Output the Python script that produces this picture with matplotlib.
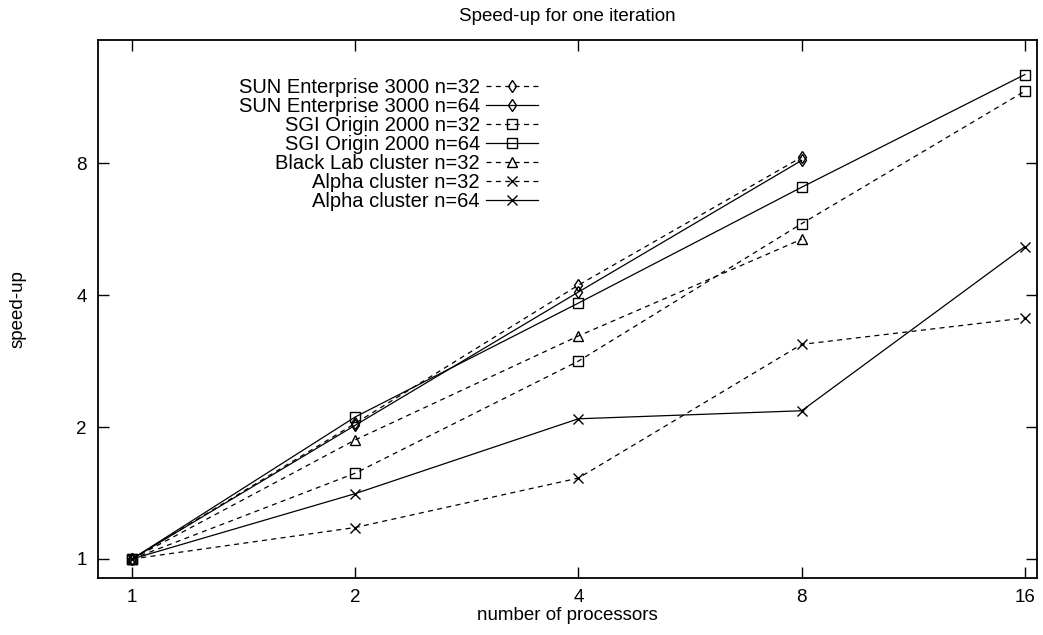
import numpy as np
import matplotlib.pyplot as plt

plt.rcParams['font.family'] = ['Liberation Sans', 'DejaVu Sans']

procs = [1, 2, 4, 8, 16]
procs8 = [1, 2, 4, 8]

sun32 = [1.0, 2.04, 4.22, 8.27]
sun64 = [1.0, 2.02, 4.07, 8.13]
sgi32 = [1.0, 1.57, 2.83, 5.83, 11.7]
sgi64 = [1.0, 2.11, 3.84, 7.06, 12.77]
black32 = [1.0, 1.87, 3.23, 5.37]
alpha32 = [1.0, 1.18, 1.53, 3.09, 3.55]
alpha64 = [1.0, 1.41, 2.09, 2.18, 5.17]

labels = ['SUN Enterprise 3000 n=32', 'SUN Enterprise 3000 n=64',
          'SGI Origin 2000 n=32', 'SGI Origin 2000 n=64',
          'Black Lab cluster n=32', 'Alpha cluster n=32', 'Alpha cluster n=64']

fig = plt.figure(figsize=(10.43, 6.35), dpi=100)
ax = fig.add_axes([0.094, 0.0898, 0.9, 0.847])

dash = (0, (4, 3.5))
lw = 0.9
common = dict(color='black', lw=lw, markersize=6.5, markerfacecolor='none',
              markeredgecolor='black', markeredgewidth=1.0)

ax.plot(procs8, sun32, marker='d', ls=dash, label=labels[0], **common)
ax.plot(procs8, sun64, marker='d', ls='-', label=labels[1], **common)
ax.plot(procs, sgi32, marker='s', ls=dash, label=labels[2], **common)
ax.plot(procs, sgi64, marker='s', ls='-', label=labels[3], **common)
ax.plot(procs8, black32, marker='^', ls=dash, label=labels[4], **common)
ax.plot(procs, alpha32, marker='x', ls=dash, label=labels[5], **common)
ax.plot(procs, alpha64, marker='x', ls='-', label=labels[6], **common)

ax.set_xscale('log', base=2)
ax.set_yscale('log', base=2)
ax.set_xlim(0.9, 16.6)
ax.set_ylim(0.905, 15.3)
ax.set_xticks(procs)
ax.set_xticklabels([str(p) for p in procs])
ax.set_yticks([1, 2, 4, 8])
ax.set_yticklabels(['1', '2', '4', '8'])
ax.minorticks_off()
ax.tick_params(direction='in', length=8, width=1, top=True, right=True,
               labelsize=13.5, pad=8)

for s in ax.spines.values():
    s.set_linewidth(1.3)

ax.set_title('Speed-up for one iteration', fontsize=13.5, pad=14)
ax.set_xlabel('number of processors', fontsize=13.5, labelpad=1)
ax.set_ylabel('speed-up', fontsize=13.5, labelpad=36)

leg = ax.legend(loc='upper right', bbox_to_anchor=(0.469, 0.93),
                markerfirst=False, frameon=False, fontsize=14.5,
                handlelength=2.6, handletextpad=0.3, labelspacing=0.0,
                borderpad=0, borderaxespad=0)

fig.savefig('out.png', dpi=100)
